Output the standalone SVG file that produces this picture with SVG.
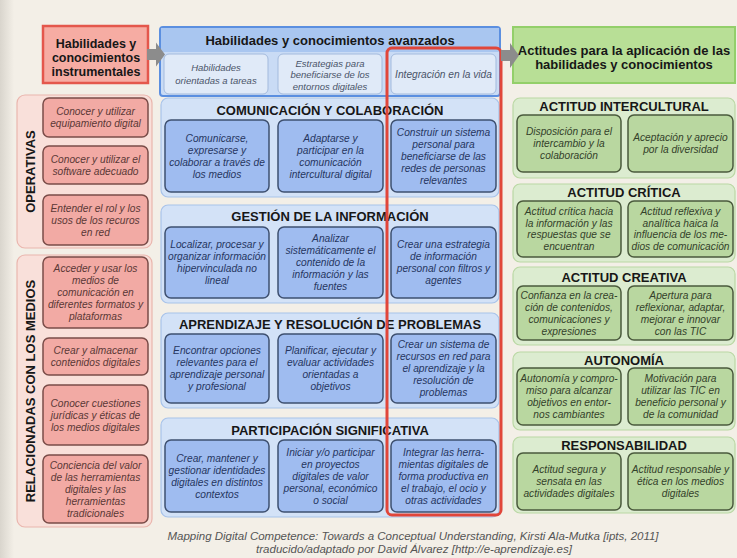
<svg xmlns="http://www.w3.org/2000/svg" width="737" height="558" viewBox="0 0 737 558">
<defs>
<linearGradient id="edge" x1="0" y1="0" x2="1" y2="0">
<stop offset="0" stop-color="#d9d5cd"/>
<stop offset="1" stop-color="#f3efe7"/>
</linearGradient>
<style>
text{font-family:"Liberation Sans",Arial,sans-serif;text-anchor:middle;dominant-baseline:central}
.t{font-style:italic;font-size:10.2px}
.tr{fill:#5a3836}
.tb{fill:#26365f}
.ts{fill:#4a5468}
.tg{fill:#33412a}
.h{font-weight:bold;font-size:13px;fill:#171717}
.cap{font-style:italic;font-size:11.5px;fill:#555}
.hdrR{fill:#f6aca3;stroke:#e4574c;stroke-width:2.5}
.panR{fill:#f9e0da;stroke:#eab6ae;stroke-width:1.2}
.boxR{fill:#f2aaa4;stroke:#7a4c48;stroke-width:1.5}
.hdrB{fill:#c9dbf5;stroke:#5b8fe0;stroke-width:2}
.stripB{fill:#a9c6f0}
.subB{fill:#e0eaf8;stroke:#a3badd;stroke-width:1}
.secB{fill:#d3e2f7;stroke:#a8c3ea;stroke-width:1.2}
.boxB{fill:#9fbcf0;stroke:#3e5070;stroke-width:1.5}
.hdrG{fill:#b8df96;stroke:#93cf6a;stroke-width:2}
.secG{fill:#dcecd0;stroke:#bad8a4;stroke-width:1.2}
.boxG{fill:#b9d7a0;stroke:#4a5a3c;stroke-width:1.5}
.hl{fill:none;stroke:#e1463a;stroke-width:3}
.arr{fill:#8c8c8c}
</style>
</defs>
<rect width="737" height="558" fill="#f3efe7"/>
<rect width="14" height="558" fill="url(#edge)"/>

<!-- LEFT COLUMN -->
<g id="hdr-instrumentales">
<rect class="hdrR" x="43" y="26" width="105" height="57"/>
<text class="h" x="96" y="44" style="font-size:12.5px">Habilidades y</text>
<text class="h" x="96" y="58" style="font-size:12.5px">conocimientos</text>
<text class="h" x="96" y="72" style="font-size:12.5px">instrumentales</text>
</g>

<g id="operativas">
<rect class="panR" x="17" y="95" width="135" height="153" rx="8"/>
<text class="h" transform="translate(30,171.5) rotate(-90)">OPERATIVAS</text>
<g id="op1"><rect class="boxR" x="43" y="98" width="105" height="39" rx="6"/>
<text class="t tr" x="95.5" y="111.5">Conocer y utilizar</text>
<text class="t tr" x="95.5" y="123.5">equipamiento digital</text></g>
<g id="op2"><rect class="boxR" x="43" y="146" width="105" height="38" rx="6"/>
<text class="t tr" x="95.5" y="159">Conocer y utilizar el</text>
<text class="t tr" x="95.5" y="171">software adecuado</text></g>
<g id="op3"><rect class="boxR" x="43" y="195" width="105" height="50" rx="6"/>
<text class="t tr" x="95.5" y="208">Entender el rol y los</text>
<text class="t tr" x="95.5" y="220">usos de los recuros</text>
<text class="t tr" x="95.5" y="232">en red</text></g>
</g>

<g id="relacionadas">
<rect class="panR" x="17" y="255" width="135" height="272" rx="8"/>
<text class="h" transform="translate(30,391) rotate(-90)">RELACIONADAS CON LOS MEDIOS</text>
<g id="rm1"><rect class="boxR" x="43" y="257" width="105" height="71" rx="6"/>
<text class="t tr" x="95.5" y="268.5">Acceder y usar los</text>
<text class="t tr" x="95.5" y="280.5">medios de</text>
<text class="t tr" x="95.5" y="292.5">comunicación en</text>
<text class="t tr" x="95.5" y="304.5">diferentes formatos y</text>
<text class="t tr" x="95.5" y="316.5">plataformas</text></g>
<g id="rm2"><rect class="boxR" x="43" y="338" width="105" height="37" rx="6"/>
<text class="t tr" x="95.5" y="350.5">Crear y almacenar</text>
<text class="t tr" x="95.5" y="362.5">contenidos digitales</text></g>
<g id="rm3"><rect class="boxR" x="43" y="385" width="105" height="60" rx="6"/>
<text class="t tr" x="95.5" y="403">Conocer cuestiones</text>
<text class="t tr" x="95.5" y="415">jurídicas y éticas de</text>
<text class="t tr" x="95.5" y="427">los medios digitales</text></g>
<g id="rm4"><rect class="boxR" x="43" y="455" width="105" height="68" rx="6"/>
<text class="t tr" x="95.5" y="465">Conciencia del  valor</text>
<text class="t tr" x="95.5" y="477">de las herramientas</text>
<text class="t tr" x="95.5" y="489">digitales y las</text>
<text class="t tr" x="95.5" y="501">herramientas</text>
<text class="t tr" x="95.5" y="513">tradicionales</text></g>
</g>

<!-- CENTER COLUMN -->
<g id="hdr-avanzados">
<rect class="hdrB" x="160" y="27" width="340" height="69" rx="3"/>
<rect class="stripB" x="161" y="28" width="338" height="24"/>
<text class="h" x="330" y="40">Habilidades y conocimientos avanzados</text>
<g id="sub1"><rect class="subB" x="164" y="54" width="104" height="40" rx="5"/>
<text class="t ts" x="216" y="67.5" style="font-size:9.5px">Habilidades</text>
<text class="t ts" x="216" y="80" style="font-size:9.5px">orientadas a tareas</text></g>
<g id="sub2"><rect class="subB" x="278" y="54" width="104" height="40" rx="5"/>
<text class="t ts" x="330" y="63" style="font-size:9.5px">Estrategias para</text>
<text class="t ts" x="330" y="74.5" style="font-size:9.5px">beneficiarse de los</text>
<text class="t ts" x="330" y="86" style="font-size:9.5px">entornos digitales</text></g>
<g id="sub3"><rect class="subB" x="391" y="54" width="105" height="40" rx="5"/>
<text class="t ts" x="443.5" y="74">Integración en la vida</text></g>
</g>

<g id="comunicacion">
<rect class="secB" x="161" y="98" width="338" height="99" rx="7"/>
<text class="h" x="330" y="110">COMUNICACIÓN Y COLABORACIÓN</text>
<g id="cc1"><rect class="boxB" x="165" y="120" width="104" height="72" rx="6"/>
<text class="t tb" x="217" y="138">Comunicarse,</text>
<text class="t tb" x="217" y="150">expresarse y</text>
<text class="t tb" x="217" y="162">colaborar a través de</text>
<text class="t tb" x="217" y="174">los medios</text></g>
<g id="cc2"><rect class="boxB" x="278" y="120" width="105" height="72" rx="6"/>
<text class="t tb" x="330.5" y="138">Adaptarse y</text>
<text class="t tb" x="330.5" y="150">participar en la</text>
<text class="t tb" x="330.5" y="162">comunicación</text>
<text class="t tb" x="330.5" y="174">intercultural digital</text></g>
<g id="cc3"><rect class="boxB" x="391" y="120" width="105" height="72" rx="6"/>
<text class="t tb" x="443.5" y="132">Construir un sistema</text>
<text class="t tb" x="443.5" y="144">personal para</text>
<text class="t tb" x="443.5" y="156">beneficiarse de las</text>
<text class="t tb" x="443.5" y="168">redes de personas</text>
<text class="t tb" x="443.5" y="180">relevantes</text></g>
</g>

<g id="gestion">
<rect class="secB" x="161" y="205" width="338" height="98" rx="7"/>
<text class="h" x="330" y="216">GESTIÓN DE LA INFORMACIÓN</text>
<g id="gi1"><rect class="boxB" x="165" y="227" width="104" height="71" rx="6"/>
<text class="t tb" x="217" y="244.5">Localizar, procesar y</text>
<text class="t tb" x="217" y="256.5">organizar información</text>
<text class="t tb" x="217" y="268.5">hipervinculada no</text>
<text class="t tb" x="217" y="280.5">lineal</text></g>
<g id="gi2"><rect class="boxB" x="278" y="227" width="105" height="71" rx="6"/>
<text class="t tb" x="330.5" y="238.5">Analizar</text>
<text class="t tb" x="330.5" y="250.5">sistemáticamente el</text>
<text class="t tb" x="330.5" y="262.5">contenido de la</text>
<text class="t tb" x="330.5" y="274.5">información y las</text>
<text class="t tb" x="330.5" y="286.5">fuentes</text></g>
<g id="gi3"><rect class="boxB" x="391" y="227" width="105" height="71" rx="6"/>
<text class="t tb" x="443.5" y="244.5">Crear una estrategia</text>
<text class="t tb" x="443.5" y="256.5">de información</text>
<text class="t tb" x="443.5" y="268.5">personal con filtros y</text>
<text class="t tb" x="443.5" y="280.5">agentes</text></g>
</g>

<g id="aprendizaje">
<rect class="secB" x="161" y="313" width="338" height="95" rx="7"/>
<text class="h" x="330" y="324">APRENDIZAJE Y RESOLUCIÓN DE PROBLEMAS</text>
<g id="ap1"><rect class="boxB" x="165" y="334" width="104" height="69" rx="6"/>
<text class="t tb" x="217" y="350.5">Encontrar opciones</text>
<text class="t tb" x="217" y="362.5">relevantes para el</text>
<text class="t tb" x="217" y="374.5">aprendizaje personal</text>
<text class="t tb" x="217" y="386.5">y profesional</text></g>
<g id="ap2"><rect class="boxB" x="278" y="334" width="105" height="69" rx="6"/>
<text class="t tb" x="330.5" y="350.5">Planificar, ejecutar y</text>
<text class="t tb" x="330.5" y="362.5">evaluar actividades</text>
<text class="t tb" x="330.5" y="374.5">orientadas a</text>
<text class="t tb" x="330.5" y="386.5">objetivos</text></g>
<g id="ap3"><rect class="boxB" x="391" y="334" width="105" height="69" rx="6"/>
<text class="t tb" x="443.5" y="344.5">Crear un sistema de</text>
<text class="t tb" x="443.5" y="356.5">recursos en red para</text>
<text class="t tb" x="443.5" y="368.5">el aprendizaje y la</text>
<text class="t tb" x="443.5" y="380.5">resolución de</text>
<text class="t tb" x="443.5" y="392.5">problemas</text></g>
</g>

<g id="participacion">
<rect class="secB" x="161" y="418" width="338" height="99" rx="7"/>
<text class="h" x="330" y="430">PARTICIPACIÓN SIGNIFICATIVA</text>
<g id="ps1"><rect class="boxB" x="165" y="440" width="104" height="72" rx="6"/>
<text class="t tb" x="217" y="458">Crear, mantener y</text>
<text class="t tb" x="217" y="470">gestionar identidades</text>
<text class="t tb" x="217" y="482">digitales en distintos</text>
<text class="t tb" x="217" y="494">contextos</text></g>
<g id="ps2"><rect class="boxB" x="278" y="440" width="105" height="72" rx="6"/>
<text class="t tb" x="330.5" y="452">Iniciar y/o participar</text>
<text class="t tb" x="330.5" y="464">en proyectos</text>
<text class="t tb" x="330.5" y="476">digitales de valor</text>
<text class="t tb" x="330.5" y="488">personal, económico</text>
<text class="t tb" x="330.5" y="500">o social</text></g>
<g id="ps3"><rect class="boxB" x="391" y="440" width="105" height="72" rx="6"/>
<text class="t tb" x="443.5" y="452">Integrar las herra-</text>
<text class="t tb" x="443.5" y="464">mientas digitales de</text>
<text class="t tb" x="443.5" y="476">forma productiva en</text>
<text class="t tb" x="443.5" y="488">el trabajo, el ocio y</text>
<text class="t tb" x="443.5" y="500">otras actividades</text></g>
</g>

<g id="highlight-integracion">
<rect class="hl" x="387" y="48" width="114" height="467" rx="5"/>
</g>

<!-- RIGHT COLUMN -->
<g id="hdr-actitudes">
<rect class="hdrG" x="513" y="27" width="222" height="56"/>
<text class="h" x="624" y="50">Actitudes para la aplicación de las</text>
<text class="h" x="624" y="64">habilidades y conocimientos</text>
</g>

<g id="intercultural">
<rect class="secG" x="513" y="98" width="222" height="80" rx="7"/>
<text class="h" x="624" y="106">ACTITUD INTERCULTURAL</text>
<g id="ai1"><rect class="boxG" x="517" y="115" width="104" height="57" rx="6"/>
<text class="t tg" x="569" y="131.5">Disposición para el</text>
<text class="t tg" x="569" y="143.5">intercambio y la</text>
<text class="t tg" x="569" y="155.5">colaboración</text></g>
<g id="ai2"><rect class="boxG" x="628" y="115" width="105" height="57" rx="6"/>
<text class="t tg" x="680.5" y="137.5">Aceptación y aprecio</text>
<text class="t tg" x="680.5" y="149.5">por la diversidad</text></g>
</g>

<g id="critica">
<rect class="secG" x="513" y="184" width="222" height="78" rx="7"/>
<text class="h" x="624" y="192">ACTITUD CRÍTICA</text>
<g id="ac1"><rect class="boxG" x="517" y="201" width="104" height="56" rx="6"/>
<text class="t tg" x="569" y="211.5">Actitud crítica hacia</text>
<text class="t tg" x="569" y="223">la información y las</text>
<text class="t tg" x="569" y="234.5">respuestas que se</text>
<text class="t tg" x="569" y="246">encuentran</text></g>
<g id="ac2"><rect class="boxG" x="628" y="201" width="105" height="56" rx="6"/>
<text class="t tg" x="680.5" y="211.5">Actitud reflexiva y</text>
<text class="t tg" x="680.5" y="223">analítica haica la</text>
<text class="t tg" x="680.5" y="234.5">influencia de los me-</text>
<text class="t tg" x="680.5" y="246">dios de comunicación</text></g>
</g>

<g id="creativa">
<rect class="secG" x="513" y="267" width="222" height="78" rx="7"/>
<text class="h" x="624" y="277">ACTITUD CREATIVA</text>
<g id="acr1"><rect class="boxG" x="517" y="286" width="104" height="54" rx="6"/>
<text class="t tg" x="569" y="295">Confianza en la crea-</text>
<text class="t tg" x="569" y="307">ción de contenidos,</text>
<text class="t tg" x="569" y="319">comunicaciones y</text>
<text class="t tg" x="569" y="331">expresiones</text></g>
<g id="acr2"><rect class="boxG" x="628" y="286" width="105" height="54" rx="6"/>
<text class="t tg" x="680.5" y="295">Apertura para</text>
<text class="t tg" x="680.5" y="307">reflexionar, adaptar,</text>
<text class="t tg" x="680.5" y="319">mejorar e innovar</text>
<text class="t tg" x="680.5" y="331">con las TIC</text></g>
</g>

<g id="autonomia">
<rect class="secG" x="513" y="352" width="222" height="78" rx="7"/>
<text class="h" x="624" y="360">AUTONOMÍA</text>
<g id="au1"><rect class="boxG" x="517" y="368" width="104" height="57" rx="6"/>
<text class="t tg" x="569" y="378.5">Autonomía y compro-</text>
<text class="t tg" x="569" y="390.5">miso para alcanzar</text>
<text class="t tg" x="569" y="402.5">objetivos en entor-</text>
<text class="t tg" x="569" y="414.5">nos cambiantes</text></g>
<g id="au2"><rect class="boxG" x="628" y="368" width="105" height="57" rx="6"/>
<text class="t tg" x="680.5" y="378.5">Motivación para</text>
<text class="t tg" x="680.5" y="390.5">utilizar las TIC en</text>
<text class="t tg" x="680.5" y="402.5">beneficio personal y</text>
<text class="t tg" x="680.5" y="414.5">de la comunidad</text></g>
</g>

<g id="responsabilidad">
<rect class="secG" x="513" y="437" width="222" height="76" rx="7"/>
<text class="h" x="624" y="445">RESPONSABILIDAD</text>
<g id="re1"><rect class="boxG" x="517" y="453" width="104" height="57" rx="6"/>
<text class="t tg" x="569" y="469.5">Actitud segura y</text>
<text class="t tg" x="569" y="481.5">sensata en las</text>
<text class="t tg" x="569" y="493.5">actividades digitales</text></g>
<g id="re2"><rect class="boxG" x="628" y="453" width="105" height="57" rx="6"/>
<text class="t tg" x="680.5" y="469.5">Actitud responsable y</text>
<text class="t tg" x="680.5" y="481.5">ética en los medios</text>
<text class="t tg" x="680.5" y="493.5">digitales</text></g>
</g>

<g id="connectors">
<polygon class="arr" points="147,49 156,49 156,42.5 165,54.5 156,66.5 156,60 147,60"/>
<polygon class="arr" points="501,50 510,50 510,43 519,55.5 510,68 510,61 501,61"/>
</g>

<g id="caption">
<text class="cap" x="413" y="536">Mapping Digital Competence: Towards a Conceptual Understanding, Kirsti Ala-Mutka [ipts, 2011]</text>
<text class="cap" x="414" y="548.5">traducido/adaptado por David Álvarez [http://e-aprendizaje.es]</text>
</g>
</svg>
